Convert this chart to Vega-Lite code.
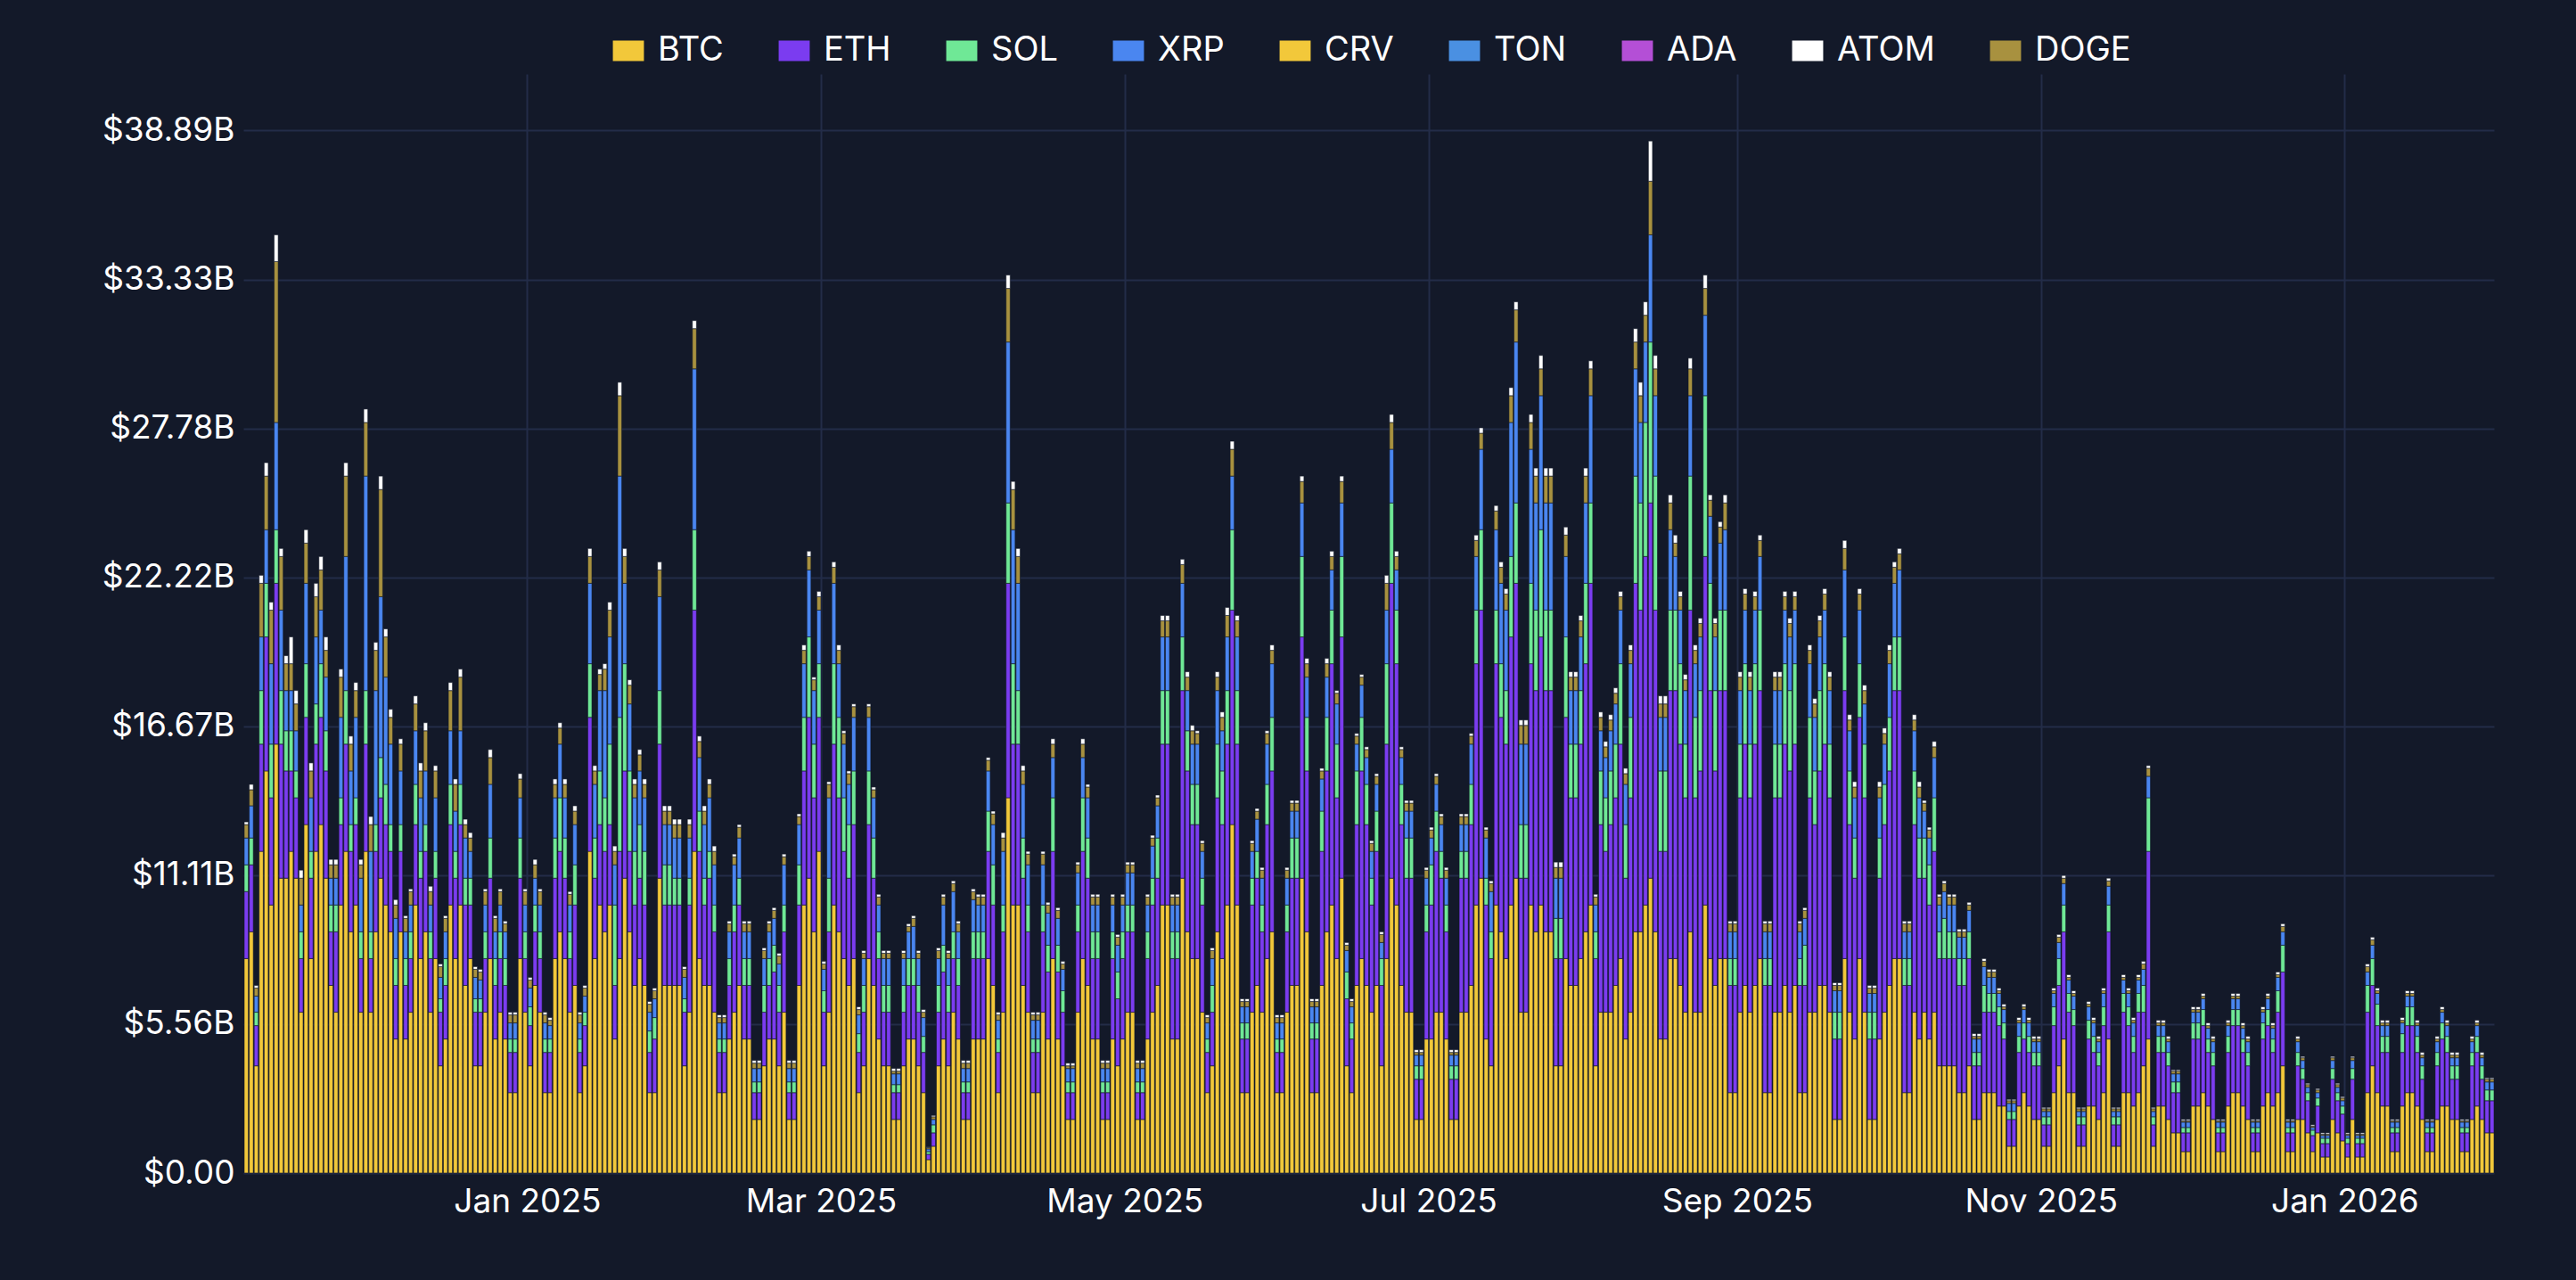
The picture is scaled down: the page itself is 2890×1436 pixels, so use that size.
{
  "$schema": "https://vega.github.io/schema/vega-lite/v6.json",
  "width": 2525,
  "height": 1233,
  "autosize": "none",
  "padding": {"left": 273, "top": 83, "right": 92, "bottom": 120},
  "background": "#131929",
  "config": {
    "view": {"stroke": null},
    "font": "Inter",
    "axis": {"labelColor": "#ffffff", "labelFontSize": 37, "gridColor": "#232c48", "gridWidth": 2, "domain": false, "ticks": false, "title": null}
  },
  "datasets": {
    "ord": [
      {"key": "BTC", "o": 0}, {"key": "ETH", "o": 1}, {"key": "SOL", "o": 2}, {"key": "XRP", "o": 3},
      {"key": "CRV", "o": 4}, {"key": "TON", "o": 5}, {"key": "ADA", "o": 6}, {"key": "DOGE", "o": 7}, {"key": "ATOM", "o": 8}
    ]
  },
  "data": {
    "format": {"type": "csv", "parse": {"d": "date", "BTC": "number", "ETH": "number", "SOL": "number", "XRP": "number", "DOGE": "number", "ATOM": "number"}},
    "values": "d,BTC,ETH,SOL,XRP,DOGE,ATOM\n2024-11-05,8,2.5,1,1,0.5,0.1\n2024-11-06,9,2.5,1,1.2,0.6,0.2\n2024-11-07,4,1.5,0.5,0.6,0.3,0.1\n2024-11-08,12,4,2,2,2,0.3\n2024-11-09,15,5,2,2,2,0.5\n2024-11-10,10,4,2,3,2,0.3\n2024-11-11,16,6,2,4,6,1\n2024-11-12,11,5,2,3,2,0.3\n2024-11-13,11,4,1.5,1.5,1,0.3\n2024-11-14,12,3,1.5,1.5,1,1\n2024-11-15,11,3,1,1.5,1,0.5\n2024-11-16,6,2,1,1,1,0.3\n2024-11-17,13,4,2,3,1.5,0.5\n2024-11-18,8,3,1,2,1,0.3\n2024-11-19,12,4,1.5,2.5,1.5,0.5\n2024-11-20,13,4,2,2,1.5,0.5\n2024-11-21,11,4,1.5,2,1,0.5\n2024-11-22,7,2,1,1,0.5,0.2\n2024-11-23,6,3,1,1,0.5,0.2\n2024-11-24,10,3,1,3,1.5,0.3\n2024-11-25,12,4,2,5,3,0.5\n2024-11-26,9,3,1,2,1,0.3\n2024-11-27,10,3,1,3,1,0.3\n2024-11-28,6,2,1,2,0.5,0.2\n2024-11-29,12,4,2,8,2,0.5\n2024-11-30,6,2,1,3,1,0.3\n2024-12-01,9,3,1,5,1.5,0.3\n2024-12-02,11,3,1.5,6,4,0.5\n2024-12-03,10,3,1.5,4,1.5,0.3\n2024-12-04,9,3,1,3,1,0.3\n2024-12-05,5,2,1,1.5,0.5,0.2\n2024-12-06,9,3,1,2,1,0.2\n2024-12-07,5,2,1,1,0.5,0.1\n2024-12-08,6,2,1,1,0.5,0.1\n2024-12-09,10,3,1.5,2,1,0.3\n2024-12-10,8,3,1,2,1,0.3\n2024-12-11,9,3,1,2,1.5,0.3\n2024-12-12,6,2,1,1,0.5,0.2\n2024-12-13,8,3,1,2,1,0.2\n2024-12-14,4,2,0.5,0.8,0.4,0.1\n2024-12-15,5,2,1,1,0.5,0.1\n2024-12-16,10,3,1.5,2,1.5,0.3\n2024-12-17,8,3,1,1.5,1,0.2\n2024-12-18,10,3,1.5,2,2,0.3\n2024-12-19,7,3,1,1.5,0.5,0.2\n2024-12-20,8,2,1,1,0.5,0.2\n2024-12-21,4,2,0.5,0.8,0.3,0.1\n2024-12-22,4,2,0.5,0.7,0.3,0.1\n2024-12-23,6,2,1,1,0.5,0.1\n2024-12-24,8,3,1.5,2,1,0.3\n2024-12-25,5,2,1,1,0.5,0.1\n2024-12-26,6,2,1,1,0.5,0.1\n2024-12-27,5,2,1,1,0.3,0.1\n2024-12-28,3,1.5,0.5,0.6,0.3,0.1\n2024-12-29,3,1.5,0.5,0.6,0.3,0.1\n2024-12-30,8,3,1.5,1.5,0.7,0.2\n2024-12-31,6,2,1,1,0.5,0.1\n2025-01-01,4,1.5,0.7,0.7,0.3,0.1\n2025-01-02,7,2,1,1,0.5,0.2\n2025-01-03,6,2,1,1,0.5,0.1\n2025-01-04,3,1.5,0.5,0.6,0.3,0.1\n2025-01-05,3,1.5,0.5,0.5,0.2,0.1\n2025-01-06,8,3,1.5,1.5,0.5,0.2\n2025-01-07,9,3,2,2,0.6,0.2\n2025-01-08,8,3,1.5,1.5,0.5,0.2\n2025-01-09,6,2,1,1,0.4,0.1\n2025-01-10,7,3,1.5,1.5,0.5,0.2\n2025-01-11,3,1.5,0.5,0.6,0.3,0.1\n2025-01-12,4,1.5,0.5,0.6,0.3,0.1\n2025-01-13,12,5,2,3,1,0.3\n2025-01-14,8,3,1.5,2,0.5,0.2\n2025-01-15,10,3,2,3,0.6,0.2\n2025-01-16,9,3,2,4,0.8,0.2\n2025-01-17,10,3,3,4,1,0.3\n2025-01-18,5,2,3,1.5,0.5,0.2\n2025-01-19,8,4,5,9,3,0.5\n2025-01-20,11,4,4,3,1,0.3\n2025-01-21,9,3,3,2.5,0.7,0.2\n2025-01-22,7,3,2,2,0.5,0.2\n2025-01-23,8,3,2,2,0.6,0.2\n2025-01-24,7,3,2,2,0.5,0.2\n2025-01-25,3,1.5,0.8,0.7,0.3,0.1\n2025-01-26,3,2,0.8,0.7,0.3,0.1\n2025-01-27,11,5,2,3.5,1,0.3\n2025-01-28,7,3,1.5,1.5,0.5,0.2\n2025-01-29,7,3,1.5,1.5,0.5,0.2\n2025-01-30,7,3,1,1.5,0.5,0.2\n2025-01-31,7,3,1,1.5,0.5,0.2\n2025-02-01,4,2,0.5,0.8,0.3,0.1\n2025-02-02,6,4,1,1.5,0.5,0.2\n2025-02-03,12,9,3,6,1.5,0.3\n2025-02-04,8,4,1.5,2,0.6,0.2\n2025-02-05,7,3,1,2,0.5,0.2\n2025-02-06,7,4,1,2,0.5,0.2\n2025-02-07,6,3,1,1.5,0.5,0.2\n2025-02-08,3,1.5,0.5,0.6,0.2,0.1\n2025-02-09,3,1.5,0.5,0.6,0.2,0.1\n2025-02-10,5,2,1,1,0.3,0.1\n2025-02-11,6,3,1,1.5,0.3,0.1\n2025-02-12,7,3,1,1.5,0.4,0.1\n2025-02-13,5,2,1,1,0.3,0.1\n2025-02-14,5,2,1,1,0.3,0.1\n2025-02-15,2,1,0.4,0.5,0.2,0.1\n2025-02-16,2,1,0.4,0.5,0.2,0.1\n2025-02-17,4,2,1,1,0.3,0.1\n2025-02-18,5,2,1,1,0.3,0.1\n2025-02-19,5,2.5,1,1,0.3,0.1\n2025-02-20,4,2,1,0.8,0.3,0.1\n2025-02-21,6,3,1,1.5,0.3,0.1\n2025-02-22,2,1,0.4,0.5,0.2,0.1\n2025-02-23,2,1,0.4,0.5,0.2,0.1\n2025-02-24,7,3,1.5,1.5,0.3,0.1\n2025-02-25,10,5,2,2,0.5,0.2\n2025-02-26,11,6,3,2.5,0.5,0.2\n2025-02-27,9,5,2,2,0.4,0.1\n2025-02-28,12,5,2,2,0.5,0.2\n2025-03-01,4,2,0.8,0.8,0.2,0.1\n2025-03-02,6,3,2,3,0.5,0.1\n2025-03-03,10,6,3,3,0.6,0.2\n2025-03-04,9,5,3,2,0.5,0.2\n2025-03-05,8,4,2,2,0.4,0.1\n2025-03-06,7,4,2,1.5,0.4,0.1\n2025-03-07,8,5,2,2,0.4,0.1\n2025-03-08,3,1.5,0.7,0.7,0.2,0.1\n2025-03-09,4,2,1,1,0.2,0.1\n2025-03-10,8,5,2,2,0.4,0.1\n2025-03-11,7,4,1.5,1.5,0.3,0.1\n2025-03-12,5,3,1,1,0.3,0.1\n2025-03-13,4,2,1,1,0.2,0.1\n2025-03-14,4,2,1,1,0.2,0.1\n2025-03-15,2,1,0.3,0.4,0.1,0.1\n2025-03-16,2,1,0.3,0.4,0.1,0.1\n2025-03-17,4,2,1,1,0.2,0.1\n2025-03-18,5,2,1,1,0.2,0.1\n2025-03-19,5,2,1,1.2,0.3,0.1\n2025-03-20,4,2,1,1,0.2,0.1\n2025-03-21,3,1.5,0.6,0.7,0.2,0.1\n2025-03-22,0.5,0.2,0.1,0.1,0.05,0.02\n2025-03-23,1,0.5,0.3,0.2,0.1,0.05\n2025-03-24,4,2,1,1,0.3,0.1\n2025-03-25,5,2.5,1,1.5,0.3,0.1\n2025-03-26,4,2,1,1,0.2,0.1\n2025-03-27,6,2,1,1.5,0.3,0.1\n2025-03-28,5,2,1,1,0.3,0.1\n2025-03-29,2,1,0.4,0.5,0.2,0.1\n2025-03-30,2,1,0.4,0.5,0.2,0.1\n2025-03-31,5,3,1,1.2,0.3,0.1\n2025-04-01,5,3,1,1,0.3,0.1\n2025-04-02,5,3,1,1,0.3,0.1\n2025-04-03,8,4,1.5,1.5,0.4,0.1\n2025-04-04,7,3,1.5,1.5,0.4,0.1\n2025-04-05,3,1.5,0.5,0.7,0.2,0.1\n2025-04-06,6,3,1,2,0.5,0.2\n2025-04-07,14,8,3,6,2,0.5\n2025-04-08,10,6,3,5,1.5,0.3\n2025-04-09,10,6,2,4,1,0.3\n2025-04-10,7,4,1.5,2,0.5,0.2\n2025-04-11,6,3,1,1.5,0.4,0.1\n2025-04-12,3,1.5,0.5,0.7,0.2,0.1\n2025-04-13,3,1.5,0.5,0.7,0.2,0.1\n2025-04-14,6,3,1,1.5,0.4,0.1\n2025-04-15,5,2.5,1,1.2,0.3,0.1\n2025-04-16,8,4,2,1.5,0.5,0.2\n2025-04-17,5,2.5,1,1,0.3,0.1\n2025-04-18,4,2,0.8,0.8,0.2,0.1\n2025-04-19,2,1,0.4,0.5,0.1,0.1\n2025-04-20,2,1,0.4,0.5,0.1,0.1\n2025-04-21,6,3,1,1.2,0.3,0.1\n2025-04-22,8,4,2,1.5,0.5,0.2\n2025-04-23,7,4,1.5,1.5,0.4,0.1\n2025-04-24,5,3,1,1,0.3,0.1\n2025-04-25,5,3,1,1,0.3,0.1\n2025-04-26,2,1,0.4,0.5,0.2,0.1\n2025-04-27,2,1,0.4,0.5,0.2,0.1\n2025-04-28,5,3,1,1,0.3,0.1\n2025-04-29,4,2.5,1,1,0.3,0.1\n2025-04-30,5,3,1,1,0.3,0.1\n2025-05-01,6,3,1,1.2,0.3,0.1\n2025-05-02,6,3,1,1.2,0.3,0.1\n2025-05-03,2,1,0.4,0.5,0.2,0.1\n2025-05-04,2,1,0.4,0.5,0.2,0.1\n2025-05-05,5,3,1,1,0.3,0.1\n2025-05-06,6,4,1,1.2,0.3,0.1\n2025-05-07,7,4,1.5,1.2,0.3,0.1\n2025-05-08,10,6,2,2,0.6,0.2\n2025-05-09,10,6,2,2,0.6,0.2\n2025-05-10,5,3,1,1,0.3,0.1\n2025-05-11,5,3,1,1,0.3,0.1\n2025-05-12,11,7,2,2,0.7,0.2\n2025-05-13,9,6,1.5,1.5,0.5,0.2\n2025-05-14,8,5,1.5,1.5,0.5,0.2\n2025-05-15,8,5,1.5,1.5,0.4,0.1\n2025-05-16,6,4,1,1,0.3,0.1\n2025-05-17,3,1.5,0.5,0.6,0.2,0.1\n2025-05-18,4,2,1,1,0.3,0.1\n2025-05-19,9,5,2,2,0.5,0.2\n2025-05-20,8,5,2,1.5,0.5,0.2\n2025-05-21,10,6,2,2,0.8,0.3\n2025-05-22,13,8,3,2,1,0.3\n2025-05-23,10,6,2,2,0.6,0.2\n2025-05-24,3,2,0.6,0.6,0.2,0.1\n2025-05-25,3,2,0.6,0.6,0.2,0.1\n2025-05-26,6,4,1,1,0.3,0.1\n2025-05-27,7,4,1,1.2,0.3,0.1\n2025-05-28,6,3,1,1,0.3,0.1\n2025-05-29,8,5,1.5,1.5,0.4,0.1\n2025-05-30,9,6,2,2,0.5,0.2\n2025-05-31,3,1.5,0.5,0.6,0.2,0.1\n2025-06-01,3,1.5,0.5,0.6,0.2,0.1\n2025-06-02,6,3,1,1,0.3,0.1\n2025-06-03,7,4,1.5,1,0.3,0.1\n2025-06-04,7,4,1.5,1,0.3,0.1\n2025-06-05,11,9,3,2,0.8,0.2\n2025-06-06,9,6,2,1.5,0.5,0.2\n2025-06-07,3,2,0.6,0.6,0.2,0.1\n2025-06-08,3,2,0.6,0.6,0.2,0.1\n2025-06-09,7,5,1.5,1.2,0.3,0.1\n2025-06-10,9,6,2,1.5,0.5,0.2\n2025-06-11,10,9,2,1.5,0.5,0.2\n2025-06-12,8,6,2,1.5,0.4,0.1\n2025-06-13,11,9,3,2,0.8,0.2\n2025-06-14,4,2.5,1,0.8,0.2,0.1\n2025-06-15,3,2,0.6,0.6,0.2,0.1\n2025-06-16,7,6,2,1,0.3,0.1\n2025-06-17,8,7,2,1.2,0.3,0.1\n2025-06-18,7,6,1.5,1,0.3,0.1\n2025-06-19,6,4,1,1,0.3,0.1\n2025-06-20,7,5,1.5,1,0.3,0.1\n2025-06-21,4,3,1,0.6,0.3,0.1\n2025-06-22,8,8,3,2,1,0.3\n2025-06-23,11,11,3,2,1,0.3\n2025-06-24,10,9,2,1.5,0.5,0.2\n2025-06-25,7,6,1.5,1,0.3,0.1\n2025-06-26,6,5,1.5,1,0.3,0.1\n2025-06-27,6,5,1.5,1,0.3,0.1\n2025-06-28,2,1.5,0.5,0.4,0.1,0.1\n2025-06-29,2,1.5,0.5,0.4,0.1,0.1\n2025-06-30,5,4,1,1,0.3,0.1\n2025-07-01,5,5,1.5,1,0.3,0.1\n2025-07-02,6,6,1.5,1,0.3,0.1\n2025-07-03,6,5,1,1,0.3,0.1\n2025-07-04,5,4,1,1,0.3,0.1\n2025-07-05,2,1.5,0.5,0.4,0.1,0.1\n2025-07-06,2,1.5,0.5,0.4,0.1,0.1\n2025-07-07,6,5,1,1,0.3,0.1\n2025-07-08,6,5,1,1,0.3,0.1\n2025-07-09,7,6,1.5,1.5,0.3,0.1\n2025-07-10,10,9,2,2,0.6,0.2\n2025-07-11,11,10,3,3,0.6,0.2\n2025-07-12,5,5,1,1.5,0.3,0.1\n2025-07-13,4,4,1,1.5,0.3,0.1\n2025-07-14,10,9,2,3,0.7,0.2\n2025-07-15,9,8,2,3,0.6,0.2\n2025-07-16,8,8,2,3,0.6,0.2\n2025-07-17,10,10,3,5,1,0.3\n2025-07-18,11,11,3,6,1.2,0.3\n2025-07-19,6,5,2,3,0.7,0.2\n2025-07-20,6,5,2,3,0.7,0.2\n2025-07-21,10,9,3,5,1,0.3\n2025-07-22,9,9,3,4,1,0.3\n2025-07-23,10,10,4,5,1,0.5\n2025-07-24,9,9,3,4,1,0.3\n2025-07-25,9,9,3,4,1,0.3\n2025-07-26,4,4,1.5,1.5,0.4,0.2\n2025-07-27,4,4,1.5,1.5,0.4,0.2\n2025-07-28,8,9,3,3,0.8,0.3\n2025-07-29,7,7,2,2,0.5,0.2\n2025-07-30,7,7,2,2,0.5,0.2\n2025-07-31,8,8,2,2,0.6,0.2\n2025-08-01,9,10,3,3,1,0.3\n2025-08-02,10,12,3,4,1,0.3\n2025-08-03,4,4,1,1,0.3,0.1\n2025-08-04,6,7,2,1.5,0.5,0.2\n2025-08-05,6,6,2,1.5,0.4,0.2\n2025-08-06,6,7,2,1.5,0.4,0.2\n2025-08-07,7,7,2,1.5,0.4,0.2\n2025-08-08,8,8,3,2,0.5,0.2\n2025-08-09,5,6,2,1.5,0.4,0.2\n2025-08-10,6,8,3,2,0.5,0.2\n2025-08-11,9,13,4,4,1,0.5\n2025-08-12,9,12,4,3,1,0.5\n2025-08-13,10,13,5,3,1,0.5\n2025-08-14,11,14,6,4,2,1.5\n2025-08-15,9,12,5,3,1,0.5\n2025-08-16,5,7,3,2,0.5,0.3\n2025-08-17,5,7,3,2,0.5,0.3\n2025-08-18,8,10,3,3,1,0.3\n2025-08-19,8,10,3,2,0.5,0.3\n2025-08-20,7,9,3,2,0.5,0.2\n2025-08-21,6,8,2,2,0.4,0.2\n2025-08-22,9,12,5,3,1,0.4\n2025-08-23,6,8,3,2,0.5,0.2\n2025-08-24,6,9,3,2,0.5,0.2\n2025-08-25,10,13,6,3,1,0.5\n2025-08-26,8,10,4,2.5,0.6,0.2\n2025-08-27,7,8,3,2,0.5,0.2\n2025-08-28,8,10,3,2.5,0.6,0.2\n2025-08-29,8,10,3,3,1,0.3\n2025-08-30,3,4,1,1,0.3,0.1\n2025-08-31,3,4,1,1,0.3,0.1\n2025-09-01,6,8,2,2,0.5,0.2\n2025-09-02,7,9,3,2,0.6,0.2\n2025-09-03,6,8,2,2,0.5,0.2\n2025-09-04,7,9,3,2,0.5,0.2\n2025-09-05,8,10,3,2,0.6,0.2\n2025-09-06,3,4,1,1,0.3,0.1\n2025-09-07,3,4,1,1,0.3,0.1\n2025-09-08,6,8,2,2,0.5,0.2\n2025-09-09,6,8,2,2,0.5,0.2\n2025-09-10,7,9,3,2,0.5,0.2\n2025-09-11,6,9,3,2,0.5,0.2\n2025-09-12,7,9,3,2,0.5,0.2\n2025-09-13,3,4,1,1,0.3,0.1\n2025-09-14,3,4,1.5,1,0.3,0.1\n2025-09-15,6,8,3,2,0.5,0.2\n2025-09-16,6,7,2,2,0.5,0.2\n2025-09-17,7,8,3,2,0.6,0.2\n2025-09-18,7,9,3,2,0.6,0.2\n2025-09-19,6,8,2,2,0.5,0.2\n2025-09-20,2,3,1,0.8,0.2,0.1\n2025-09-21,2,3,1,0.8,0.2,0.1\n2025-09-22,8,10,2,2.5,0.8,0.3\n2025-09-23,6,7,2,1.5,0.4,0.2\n2025-09-24,5,6,1.5,1.5,0.4,0.2\n2025-09-25,8,9,2,2,0.6,0.2\n2025-09-26,6,8,2,1.5,0.5,0.2\n2025-09-27,2,3,1,0.7,0.2,0.1\n2025-09-28,2,3,1,0.7,0.2,0.1\n2025-09-29,5,6,1.5,1.5,0.4,0.2\n2025-09-30,6,7,1.5,1.5,0.4,0.2\n2025-10-01,7,8,2,2,0.5,0.2\n2025-10-02,8,10,2,2,0.6,0.2\n2025-10-03,8,10,2,2.5,0.6,0.2\n2025-10-04,3,4,1,1,0.3,0.1\n2025-10-05,3,4,1,1,0.3,0.1\n2025-10-06,6,7,2,1.5,0.4,0.2\n2025-10-07,5,6,1.5,1.5,0.4,0.2\n2025-10-08,6,5,1.5,1,0.3,0.1\n2025-10-09,5,5,1.5,1,0.3,0.1\n2025-10-10,6,6,2,1.5,0.4,0.2\n2025-10-11,4,4,1,1,0.3,0.1\n2025-10-12,4,4,1.5,1,0.3,0.1\n2025-10-13,4,4,1,1,0.3,0.1\n2025-10-14,4,4,1,1,0.3,0.1\n2025-10-15,3,4,1,0.8,0.2,0.1\n2025-10-16,3,4,1,0.8,0.2,0.1\n2025-10-17,4,4,1,0.8,0.2,0.1\n2025-10-18,2,2,0.5,0.5,0.1,0.1\n2025-10-19,2,2,0.5,0.5,0.1,0.1\n2025-10-20,3,3,1,0.7,0.2,0.1\n2025-10-21,3,3,0.7,0.6,0.2,0.1\n2025-10-22,3,3,0.7,0.6,0.2,0.1\n2025-10-23,2.5,3,0.7,0.5,0.1,0.1\n2025-10-24,2.5,2.5,0.6,0.5,0.1,0.1\n2025-10-25,1,1,0.3,0.3,0.1,0.05\n2025-10-26,1,1,0.3,0.3,0.1,0.05\n2025-10-27,2.5,2,0.6,0.5,0.1,0.1\n2025-10-28,3,2,0.6,0.5,0.1,0.1\n2025-10-29,2.5,2,0.6,0.5,0.1,0.1\n2025-10-30,2,2,0.5,0.4,0.1,0.1\n2025-10-31,2,2,0.5,0.4,0.1,0.1\n2025-11-01,1,0.8,0.3,0.2,0.1,0.05\n2025-11-02,1,0.8,0.3,0.2,0.1,0.05\n2025-11-03,3,2.5,0.7,0.5,0.1,0.1\n2025-11-04,4,3,1,0.6,0.2,0.1\n2025-11-05,5,4,1,0.8,0.2,0.1\n2025-11-06,3,3,0.7,0.5,0.1,0.1\n2025-11-07,3,2.5,0.6,0.5,0.1,0.1\n2025-11-08,1,0.8,0.3,0.2,0.1,0.05\n2025-11-09,1,0.8,0.3,0.2,0.1,0.05\n2025-11-10,2.5,2.5,0.7,0.5,0.1,0.1\n2025-11-11,2.5,2,0.6,0.5,0.1,0.1\n2025-11-12,2,2,0.5,0.4,0.1,0.1\n2025-11-13,3,2.5,0.7,0.5,0.1,0.1\n2025-11-14,5,4,1,0.7,0.2,0.1\n2025-11-15,1,0.8,0.3,0.2,0.1,0.05\n2025-11-16,1,0.8,0.3,0.2,0.1,0.05\n2025-11-17,3,3,0.7,0.5,0.1,0.1\n2025-11-18,3,2.5,0.7,0.5,0.1,0.1\n2025-11-19,2.5,2,0.6,0.5,0.1,0.1\n2025-11-20,3,3,0.7,0.5,0.1,0.1\n2025-11-21,4,2,1,0.6,0.2,0.1\n2025-11-22,5,7,2,0.8,0.3,0.1\n2025-11-23,1,0.8,0.3,0.2,0.1,0.05\n2025-11-24,2.5,2,0.6,0.4,0.1,0.1\n2025-11-25,2.5,2,0.6,0.4,0.1,0.1\n2025-11-26,2,2,0.5,0.4,0.1,0.1\n2025-11-27,1.5,1.5,0.4,0.3,0.1,0.05\n2025-11-28,1.5,1.5,0.4,0.3,0.1,0.05\n2025-11-29,0.8,0.7,0.2,0.2,0.05,0.05\n2025-11-30,0.8,0.7,0.2,0.2,0.05,0.05\n2025-12-01,2.5,2.5,0.6,0.4,0.1,0.1\n2025-12-02,2.5,2.5,0.6,0.4,0.1,0.1\n2025-12-03,3,2.5,0.6,0.4,0.1,0.1\n2025-12-04,2.5,2,0.5,0.4,0.1,0.1\n2025-12-05,2,2,0.5,0.4,0.1,0.1\n2025-12-06,0.8,0.7,0.2,0.2,0.05,0.05\n2025-12-07,0.8,0.7,0.2,0.2,0.05,0.05\n2025-12-08,2.5,2,0.6,0.4,0.1,0.1\n2025-12-09,3,2.5,0.6,0.4,0.1,0.1\n2025-12-10,3,2.5,0.6,0.4,0.1,0.1\n2025-12-11,2.5,2,0.5,0.4,0.1,0.1\n2025-12-12,2,2,0.5,0.4,0.1,0.1\n2025-12-13,0.8,0.7,0.2,0.2,0.05,0.05\n2025-12-14,0.8,0.7,0.2,0.2,0.05,0.05\n2025-12-15,2.5,2.5,0.6,0.4,0.1,0.1\n2025-12-16,3,2.5,0.6,0.4,0.1,0.1\n2025-12-17,2.5,2,0.5,0.4,0.1,0.1\n2025-12-18,3,3,0.8,0.5,0.1,0.1\n2025-12-19,4,3.5,1,0.5,0.2,0.1\n2025-12-20,0.8,0.7,0.2,0.2,0.05,0.05\n2025-12-21,0.8,0.7,0.2,0.2,0.05,0.05\n2025-12-22,2,2,0.5,0.4,0.1,0.1\n2025-12-23,2,1.5,0.4,0.3,0.1,0.05\n2025-12-24,1.5,1.2,0.3,0.2,0.1,0.05\n2025-12-25,0.8,0.6,0.2,0.1,0.05,0.05\n2025-12-26,1.5,1,0.3,0.2,0.1,0.05\n2025-12-27,0.6,0.5,0.2,0.1,0.05,0.05\n2025-12-28,0.6,0.5,0.2,0.1,0.05,0.05\n2025-12-29,2,1.5,0.4,0.3,0.1,0.05\n2025-12-30,1.5,1.2,0.3,0.2,0.1,0.05\n2025-12-31,1.2,1,0.3,0.2,0.1,0.05\n2026-01-01,0.6,0.5,0.2,0.1,0.05,0.05\n2026-01-02,2,1.5,0.4,0.3,0.1,0.05\n2026-01-03,0.6,0.5,0.2,0.1,0.05,0.05\n2026-01-04,0.6,0.5,0.2,0.1,0.05,0.05\n2026-01-05,3,3,1,0.5,0.2,0.1\n2026-01-06,4,3,1,0.5,0.2,0.1\n2026-01-07,3,2.5,0.8,0.4,0.1,0.1\n2026-01-08,2.5,2,0.6,0.4,0.1,0.1\n2026-01-09,2.5,2,0.6,0.4,0.1,0.1\n2026-01-10,0.8,0.7,0.2,0.2,0.05,0.05\n2026-01-11,0.8,0.7,0.2,0.2,0.05,0.05\n2026-01-12,2.5,2,0.7,0.4,0.1,0.1\n2026-01-13,3,2.5,0.7,0.4,0.1,0.1\n2026-01-14,3,2.5,0.7,0.4,0.1,0.1\n2026-01-15,2.5,2,0.6,0.4,0.1,0.1\n2026-01-16,2,1.5,0.5,0.3,0.1,0.1\n2026-01-17,0.8,0.7,0.2,0.2,0.05,0.05\n2026-01-18,0.8,0.7,0.2,0.2,0.05,0.05\n2026-01-19,2,2,0.5,0.4,0.1,0.1\n2026-01-20,2.5,2.5,0.6,0.4,0.1,0.1\n2026-01-21,2.5,2,0.6,0.4,0.1,0.1\n2026-01-22,2,1.5,0.5,0.3,0.1,0.1\n2026-01-23,2,1.5,0.5,0.3,0.1,0.1\n2026-01-24,0.8,0.7,0.2,0.2,0.05,0.05\n2026-01-25,0.8,0.7,0.2,0.2,0.05,0.05\n2026-01-26,2,2,0.5,0.4,0.1,0.1\n2026-01-27,2.5,2,0.6,0.4,0.1,0.1\n2026-01-28,2,1.5,0.5,0.3,0.1,0.1\n2026-01-29,1.5,1.2,0.4,0.3,0.1,0.05\n2026-01-30,1.5,1.2,0.4,0.3,0.1,0.05"
  },
  "transform": [
    {"fold": ["BTC", "ETH", "SOL", "XRP", "DOGE", "ATOM"]},
    {"lookup": "key", "from": {"data": {"name": "ord"}, "key": "key", "fields": ["o"]}}
  ],
  "mark": {"type": "bar", "stroke": "#131929", "strokeWidth": 0.6},
  "encoding": {
    "x": {
      "field": "d", "type": "temporal", "timeUnit": "utcyearmonthdate",
      "scale": {"type": "utc", "domain": ["2024-11-05", "2026-01-31"]},
      "axis": {"tickCount": {"interval": "month", "step": 2}, "labelExpr": "utcFormat(datum.value, '%b %Y')", "labelLimit": 0, "labelPadding": 14, "grid": true}
    },
    "y": {
      "field": "value", "type": "quantitative", "stack": "zero",
      "scale": {"domain": [0, 41], "nice": false},
      "axis": {"values": [0, 5.556, 11.111, 16.667, 22.222, 27.778, 33.333, 38.889], "labelExpr": "'$' + format(datum.value, '.2f') + (datum.value > 0 ? 'B' : '')", "labelPadding": 10}
    },
    "color": {
      "field": "key", "type": "nominal",
      "scale": {
        "domain": ["BTC", "ETH", "SOL", "XRP", "CRV", "TON", "ADA", "ATOM", "DOGE"],
        "range": ["#f2c83a", "#7b3cf0", "#6fe896", "#4a86f0", "#f2c83a", "#4a90e2", "#b44fd6", "#ffffff", "#a8913f"]
      },
      "legend": {
        "orient": "none", "legendX": 413, "legendY": -45, "direction": "horizontal", "title": null, "labelColor": "#ffffff",
        "labelFontSize": 38, "symbolType": "M-1.5,-1L1.5,-1L1.5,1L-1.5,1Z", "symbolSize": 540, "symbolStrokeWidth": 0,
        "columnPadding": 60, "labelOffset": 14
      }
    },
    "order": {"field": "o", "type": "quantitative"}
  }
}
